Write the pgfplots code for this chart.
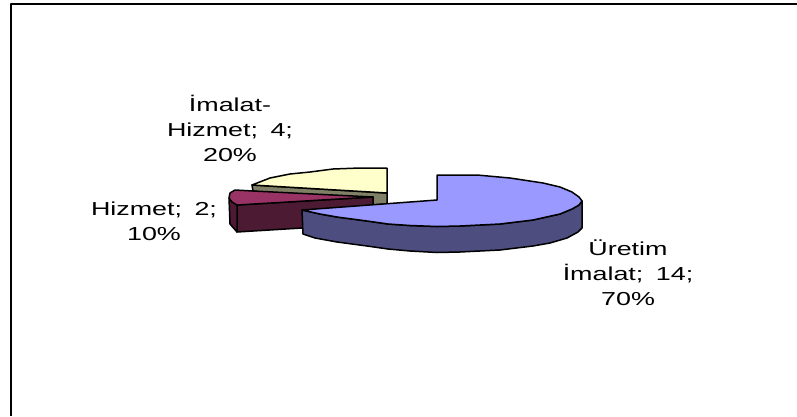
\documentclass[border=0pt]{standalone}
\usepackage{pgfplots}
\pgfplotsset{compat=1.18}
\usepackage{fontspec}
\setmainfont{Liberation Sans}
\definecolor{blueTop}{HTML}{9999FF}
\definecolor{blueSide}{HTML}{4D4D80}
\definecolor{wineTop}{HTML}{993366}
\definecolor{wineSide}{HTML}{4D1A33}
\definecolor{creamTop}{HTML}{FFFFCC}
\definecolor{creamSide}{HTML}{808066}
\newcommand{\wide}[1]{\scalebox{1.43}[1]{#1}}
\newcommand{\gap}{\hspace*{8.7pt}}
\tikzset{lab/.style={align=center, font=\fontsize{18.8}{25}\selectfont, inner sep=0pt}}
\begin{document}
\begin{tikzpicture}
\begin{axis}[
  scale only axis, width=797pt, height=416pt,
  xmin=0, xmax=797, ymin=0, ymax=416, y dir=reverse,
  hide axis, clip=true,
  every axis plot/.append style={draw=black, line width=1.5pt, line join=round},
]
% full page extent
\path (axis cs:0,0) rectangle (axis cs:797,416);

% chart area border: only the top and left edges are visible
\addplot[line width=2pt, fill=none] coordinates {(11,416) (11,4) (797,4)};

% Imalat-Hizmet slice, 20%
\addplot[fill=creamSide] coordinates {(252,185) (253,191) (373,205) (387,204) (387,193)} --cycle;
\addplot[fill=creamTop] coordinates {(252,185) (270,178) (290,174) (310,172) (333,169) (360,168) (387,168) (387,193)} --cycle;

% Hizmet slice, 10%
\addplot[fill=wineSide] coordinates {(237,205) (373,197) (373,204) (320,228) (302,228) (237,232)} --cycle;
\addplot[fill=wineSide] coordinates {(229,198) (237,205) (237,232) (230,224)} --cycle;
\addplot[fill=wineTop] coordinates {(235,190) (253,191) (373,197) (237,205) (232,202) (229,198) (230,193)} --cycle;

% Uretim Imalat slice, 70%
\addplot[fill=blueSide] coordinates {(302,210) (320,214) (337,217) (352,219) (367,221) (388,224) (410,225.5) (437,226.5) (460,226) (500,224) (533,220) (560,214) (572,209) (579,205) (582,201) (582,228) (578,232) (567,238) (550,243) (533,246) (500,250) (460,252) (437,252.5) (410,251) (388,249) (367,246) (352,244) (337,242) (315,238) (303,234)} --cycle;
\addplot[fill=blueTop] coordinates {(302,210) (437,200) (437,175) (477,175) (510,178) (543,183) (560,187) (572,192) (579,197) (582,201) (579,205) (572,209) (560,214) (533,220) (500,224) (460,226) (437,226.5) (410,225.5) (388,224) (367,221) (352,219) (337,217) (320,214)} --cycle;

% slice labels
\node[lab] at (axis cs:230,128.5) {\wide{İmalat-}\\\wide{Hizmet;\gap 4;}\\\wide{20\%}};
\node[lab] at (axis cs:154,221) {\wide{Hizmet;\gap 2;}\\\wide{10\%}};
\node[lab] at (axis cs:628,273) {\wide{Üretim}\\\wide{İmalat;\gap 14;}\\\wide{70\%}};
\end{axis}
\end{tikzpicture}
\end{document}
